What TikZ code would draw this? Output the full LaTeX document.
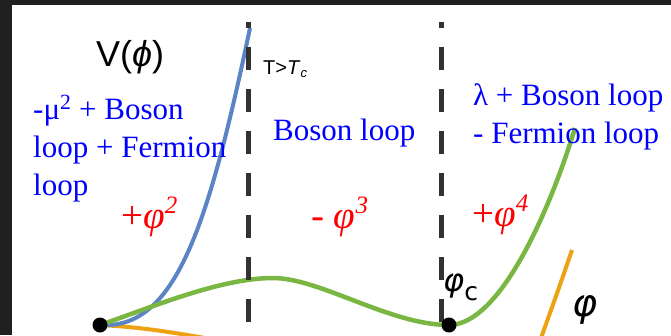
\documentclass[tikz,border=0pt]{standalone}
\usepackage{fontspec}
\setmainfont{Liberation Serif}
\newfontfamily\arialf{Liberation Sans}
\newfontfamily\dejaf{DejaVu Sans}
\definecolor{bgdark}{RGB}{32,32,32}
\definecolor{dashc}{RGB}{50,50,50}
\definecolor{bluec}{RGB}{91,132,196}
\definecolor{greenc}{RGB}{122,182,66}
\definecolor{orangec}{RGB}{236,162,18}
\definecolor{txtblue}{RGB}{0,0,255}
\definecolor{txtred}{RGB}{255,0,0}
\tikzset{
  divider/.style={line width=5pt, dashc, dash pattern=on 23pt off 19pt, dash phase=17pt},
  curveb/.style={line width=4pt, bluec},
  curveg/.style={line width=4.5pt, greenc},
  curveo/.style={line width=4pt, orangec},
  bluetxt/.style={inner sep=0pt, txtblue, font=\fontsize{31}{38}\selectfont, align=left},
  redtxt/.style={inner sep=0pt, txtred, font=\fontsize{39}{40}\selectfont},
  dot/.style={circle, fill=black, inner sep=0pt, minimum size=15pt},
}
\newcommand{\redsup}[1]{\raisebox{15pt}{\fontsize{25}{26}\selectfont\textit{#1}}}
\begin{document}
\begin{tikzpicture}[x=1pt,y=-1pt]
\useasboundingbox (0,0) rectangle (671,335);
\fill[bgdark] (0,0) rectangle (671,335);
\fill[white] (12,5) rectangle (671,335);
% coordinates
\coordinate (o) at (100,325);
\coordinate (gmax) at (273,278);
\coordinate (gmin) at (449,325);
\coordinate (gend) at (575,128);
\coordinate (bend) at (250,28);
\coordinate (oend) at (205,338);
\coordinate (o2a) at (572,250);
\coordinate (o2b) at (541,338);
% curves
\draw[curveo] (o) .. controls (140,327) and (170,332) .. (oend);
\draw[curveb] (o) .. controls (175,330) and (208,228) .. (bend);
\draw[curveg] (o) .. controls (150,308) and (220,278) .. (gmax)
  .. controls (320,278) and (390,325) .. (gmin)
  .. controls (500,325) and (550,210) .. (gend);
\draw[curveo] (o2a) .. controls (560,285) .. (o2b);
% dividers
\coordinate (d1t) at (248,22);
\coordinate (d1b) at (248,323);
\coordinate (d2t) at (441,22);
\coordinate (d2b) at (441,323);
\draw[divider] (d1t) -- (d1b);
\draw[divider] (d2t) -- (d2b);
% dots
\node[dot] (p0) at (o) {};
\node[dot] (pc) at (gmin) {};
% texts
\node[inner sep=0pt, anchor=base west, font=\arialf\fontsize{36}{38}\selectfont] (vphi) at (96,66) {V(\textit{ϕ})};
\node[inner sep=0pt, anchor=base west, font=\arialf\fontsize{20}{22}\selectfont] (tc) at (263,74) {T>\textit{T}\raisebox{-3pt}{\fontsize{13}{14}\selectfont\textit{c}}};
\node[bluetxt, anchor=base west] (bl) at (33,195) {-μ\textsuperscript{2} + Boson\\loop + Fermion\\loop};
\node[bluetxt, anchor=base west] (bm) at (273,140) {Boson loop};
\node[bluetxt, anchor=base west] (br) at (473,143) {λ + Boson loop\\- Fermion loop};
\node[redtxt, anchor=base west] (r1) at (121,228) {+\textit{φ}\redsup{2}};
\node[redtxt, anchor=base west] (r2) at (311,228) {- \textit{φ}\redsup{3}};
\node[redtxt, anchor=base west] (r3) at (472,226) {+\textit{φ}\redsup{4}};
\node[inner sep=0pt, anchor=base west, font=\dejaf\fontsize{32}{34}\selectfont] (phic) at (443,291) {\textit{φ}\raisebox{-9pt}{\fontsize{25}{26}\selectfont c}};
\node[inner sep=0pt, anchor=base west, font=\dejaf\fontsize{38}{40}\selectfont] (phi) at (572,316) {\textit{φ}};
\end{tikzpicture}
\end{document}
